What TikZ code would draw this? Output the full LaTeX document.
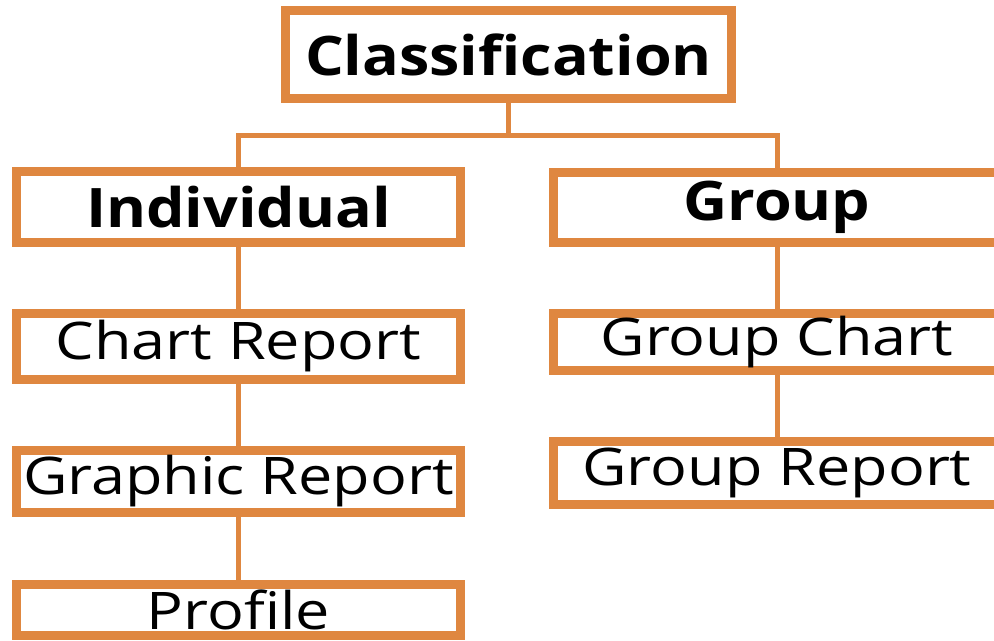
\documentclass[tikz,border=0pt]{standalone}
\usepackage{fontspec}
\newfontfamily\headfont[FakeStretch=1.12]{Open Sans}
\newfontfamily\itemfont[FakeStretch=1.18]{Open Sans}
\usepackage{tikz}
\usetikzlibrary{positioning}
\usetikzlibrary{shadows}
\definecolor{boxorange}{RGB}{223,135,64}
\tikzset{
  box/.style={draw=boxorange,line width=9*0.02cm,fill=white,
    drop shadow={shadow xshift=1.2pt,shadow yshift=-1.2pt,opacity=0.3},
    inner sep=0pt,minimum width=444*0.02cm},
  headtext/.style={font=\headfont\bfseries\fontsize{31}{31}\selectfont},
  itemtext/.style={font=\itemfont\fontsize{29.5}{29.5}\selectfont},
  link/.style={draw=boxorange,line width=5*0.02cm}
}

\begin{document}
\begin{tikzpicture}[x=0.02cm,y=-0.02cm]
\useasboundingbox (0,0) rectangle (994,640);

% Top box
\node[box,headtext,minimum width=446*0.02cm,minimum height=88*0.02cm] (cls) at (508.5,54.5) {Classification};

% Individual branch
\node[box,headtext,minimum height=71*0.02cm] (ind) at (238.5,207) {Individual};
\node[box,itemtext,minimum height=66*0.02cm] (chart) at (238.5,346.5) {Chart Report};
\node[box,itemtext,minimum height=62*0.02cm] (graphic) at (238.5,481.5) {Graphic Report};
\node[box,itemtext,minimum height=51*0.02cm] (profile) at (238.5,610) {Profile};

% Group branch
\node[box,headtext,minimum width=447*0.02cm,minimum height=70*0.02cm] (grp) at (777,207.5) {Group};
\node[box,itemtext,minimum width=447*0.02cm,minimum height=57*0.02cm] (gchart) at (777,342) {Group Chart};
\node[box,itemtext,minimum width=447*0.02cm,minimum height=63*0.02cm] (greport) at (777,473) {Group Report};

% Connectors
\coordinate (bus) at (508.5,135);
\draw[link] (cls.south) -- (bus);
\draw[link] (bus) -| (ind.north);
\draw[link] (bus) -| (grp.north);
\draw[link] (ind) -- (chart);
\draw[link] (chart) -- (graphic);
\draw[link] (graphic) -- (profile);
\draw[link] (grp) -- (gchart);
\draw[link] (gchart) -- (greport);

\end{tikzpicture}
\end{document}
